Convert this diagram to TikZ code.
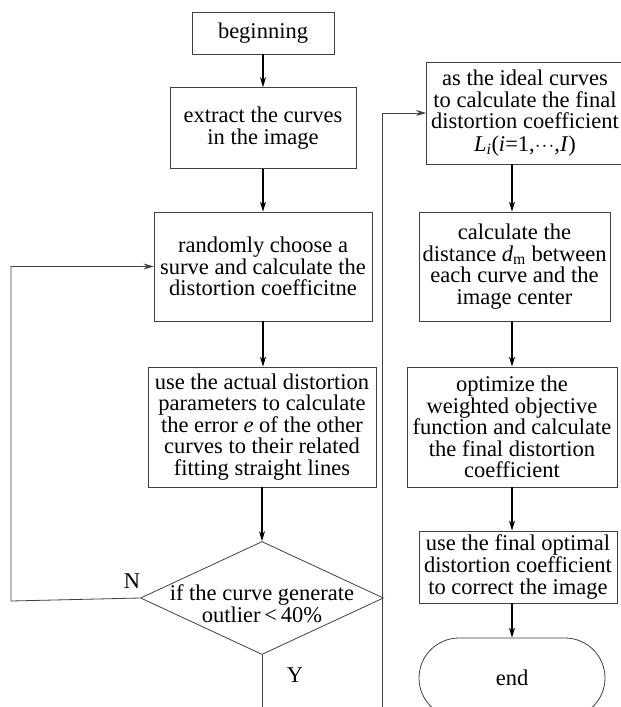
\documentclass[tikz,border=0pt]{standalone}
\usepackage{fontspec}
\setmainfont{Liberation Serif}
\usetikzlibrary{positioning}
\usetikzlibrary{shapes,arrows.meta}

\tikzset{
  box/.style={draw=black!75, line width=0.8pt, inner sep=0.5pt, align=center,
    font=\fontsize{22.5}{21.6}\selectfont},
  flow/.style={-{Stealth[length=10pt,width=6pt]}, line width=1.1pt},
  link/.style={-{Stealth[length=10pt,width=6pt]}, line width=0.8pt, draw=black!75},
  tag/.style={font=\fontsize{22.5}{21.6}\selectfont}
}

\begin{document}
\begin{tikzpicture}[x=1pt,y=-1pt]
\path[use as bounding box, clip] (0,0) rectangle (621,707);
% left column
\node[box, minimum width=142pt, minimum height=42pt] (begin) at (263,33) {beginning};
\node[box, minimum width=186pt, minimum height=81pt] (extract) at (263,128)
  {extract the curves\\in the image};
\node[box, minimum width=218pt, minimum height=109pt] (choose) at (263,266.5)
  {randomly choose a\\surve and calculate the\\distortion coefficitne};
\node[box, minimum width=228pt, minimum height=120pt] (error) at (262,427)
  {use the actual distortion\\parameters to calculate\\the error \textit{e} of the other\\curves to their related\\fitting straight lines};
\node[box, diamond, minimum width=243pt, minimum height=113pt, inner sep=0pt,
  label={[tag, align=center, yshift=-6pt]center:{if the curve generate\\outlier\,<\,40\%}}]
  (check) at (262,598) {};
\node[tag] (no) at (132,581) {N};
\node[tag] (yes) at (295,675) {Y};
% right column
\node[box, minimum width=197pt, minimum height=102pt] (ideal) at (525,113)
  {as the ideal curves\\to calculate the final\\distortion coefficient\\[1pt]\textit{L}\textsubscript{\textit{i}}(\textit{i}=1,$\cdot\!\cdot\!\cdot$,\textit{I})};
\node[box, minimum width=191pt, minimum height=109pt] (dist) at (514.5,266.5)
  {calculate the\\distance \textit{d}\textsubscript{m} between\\each curve and the\\image center};
\node[box, minimum width=210pt, minimum height=120pt] (optim) at (512,427)
  {optimize the\\weighted objective\\function and calculate\\the final distortion\\coefficient};
\node[box, minimum width=198pt, minimum height=72pt] (final) at (518,567)
  {use the final optimal\\distortion coefficient\\to correct the image};
\node[box, rounded rectangle, minimum width=187pt, minimum height=80pt] (end) at (512,678) {end};

\coordinate (nbend) at (11,601);
\coordinate (ygo) at (382,725);

\path[flow] (begin) edge (extract)
  (extract) edge (choose)
  (choose.south) edge (choose.south |- error.north)
  (error.south) edge (error.south |- check.north)
  (ideal.south -| optim) edge (dist.north -| optim)
  (dist.south -| optim) edge (optim.north)
  (optim.south) edge (final.north -| optim)
  (final.south -| optim) edge (end.north -| optim);
\draw[link] (check.west) -- (nbend) |- (choose.west);
\draw[link] (check.south) |- (ygo) |- (ideal.west);
\end{tikzpicture}
\end{document}
